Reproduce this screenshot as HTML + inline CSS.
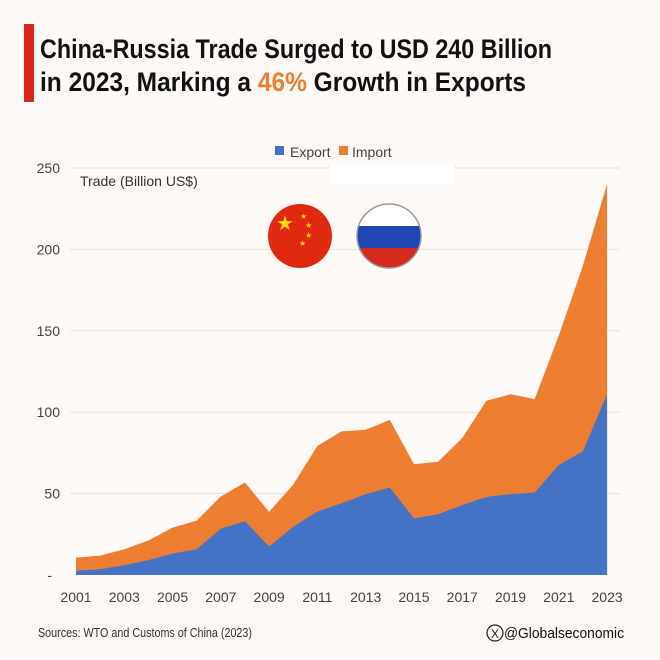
<!DOCTYPE html>
<html><head><meta charset="utf-8"><style>
html,body{margin:0;padding:0;background:#fcf9f6;}
body{width:660px;height:660px;overflow:hidden;font-family:"Liberation Sans",sans-serif;}
</style></head><body>
<svg id="s" width="660" height="660" xmlns="http://www.w3.org/2000/svg" style="position:absolute;left:0;top:0">
<rect width="660" height="660" fill="#fcf9f6"/>
<rect x="24" y="24" width="10" height="78" fill="#d8261c"/>
<text x="40" y="58" font-size="27" font-weight="bold" fill="#111" textLength="512" lengthAdjust="spacingAndGlyphs" font-family="Liberation Sans Narrow, Liberation Sans, sans-serif">China-Russia Trade Surged to USD 240 Billion</text>
<text x="40" y="91" font-size="27" font-weight="bold" fill="#111" textLength="486" lengthAdjust="spacingAndGlyphs" font-family="Liberation Sans Narrow, Liberation Sans, sans-serif">in 2023, Marking a <tspan fill="#ed7d31">46%</tspan> Growth in Exports</text>
<g id="grid"></g>
<g id="areas"></g>
<rect x="275" y="146" width="9" height="9" fill="#4472c4"/>
<text x="290" y="157" font-size="14" fill="#444">Export</text>
<rect x="339" y="146" width="9" height="9" fill="#ed7d31"/>
<text x="352" y="157" font-size="14" fill="#444">Import</text>
<rect x="330" y="164" width="124" height="20" fill="#ffffff"/>
<text x="80" y="186" font-size="14" fill="#333">Trade (Billion US$)</text>
<!-- China flag -->
<circle cx="300" cy="236" r="32" fill="#de2910"/>
<text x="285" y="230" font-size="20" fill="#ffde00" text-anchor="middle">★</text>
<text x="300" y="219" font-size="8" fill="#ffde00">★</text>
<text x="305" y="228" font-size="8" fill="#ffde00">★</text>
<text x="305" y="238" font-size="8" fill="#ffde00">★</text>
<text x="299" y="246" font-size="8" fill="#ffde00">★</text>
<!-- Russia flag -->
<clipPath id="rc"><circle cx="389" cy="236" r="32"/></clipPath>
<g clip-path="url(#rc)">
<rect x="355" y="202" width="70" height="24" fill="#fff"/>
<rect x="355" y="226" width="70" height="22" fill="#1f46b4"/>
<rect x="355" y="248" width="70" height="22" fill="#d52b1e"/>
</g>
<circle cx="389" cy="236" r="32" fill="none" stroke="#999" stroke-width="1.5"/>
<text x="38" y="637" font-size="13" fill="#333" textLength="214" lengthAdjust="spacingAndGlyphs">Sources: WTO and Customs of China (2023)</text>
<circle cx="495" cy="633" r="8" fill="none" stroke="#222" stroke-width="1.2"/>
<text x="495" y="638" font-size="12" fill="#222" text-anchor="middle">X</text>
<text x="504" y="638" font-size="15" fill="#111" textLength="120" lengthAdjust="spacingAndGlyphs">@Globalseconomic</text>
</svg>
<script>
var tot=[10.7,11.9,15.8,21.2,29.1,33.4,48.2,56.8,38.8,55.5,79.3,88.2,89.2,95.3,68.0,69.6,84.1,107,111,108,147,190,240];
var ex=[2.7,3.5,6.0,9.1,13.2,15.8,28.5,33.0,17.5,29.6,38.9,44.1,49.6,53.7,34.8,37.3,42.9,48,49.7,50.6,67.6,76,111];
var X=function(i){return 76+i*24.14}, Y=function(v){return 575-v*1.628};
var ns="http://www.w3.org/2000/svg",g=document.getElementById('grid'),a=document.getElementById('areas');
function el(p,t,at,txt){var e=document.createElementNS(ns,t);for(var k in at)e.setAttribute(k,at[k]);if(txt)e.textContent=txt;p.appendChild(e);return e;}
[50,100,150,200,250].forEach(function(v){el(g,'line',{x1:70,x2:620,y1:Y(v),y2:Y(v),stroke:'#e6e2de','stroke-width':1});el(g,'text',{x:60,y:Y(v)+5,'font-size':14,fill:'#444','text-anchor':'end'},String(v));});
el(g,'text',{x:52,y:580,'font-size':14,fill:'#444','text-anchor':'end'},'-');
for(var i=0;i<23;i+=2)el(g,'text',{x:X(i),y:602,'font-size':14,fill:'#444','text-anchor':'middle'},String(2001+i));
var p1='',p2='';
for(i=0;i<23;i++){p1+=X(i)+','+Y(tot[i])+' ';p2+=X(i)+','+Y(ex[i])+' ';}
el(a,'polygon',{points:p1+X(22)+','+Y(0)+' '+X(0)+','+Y(0),fill:'#ed7d31'});
el(a,'polygon',{points:p2+X(22)+','+Y(0)+' '+X(0)+','+Y(0),fill:'#4472c4'});
</script>
</body></html>
